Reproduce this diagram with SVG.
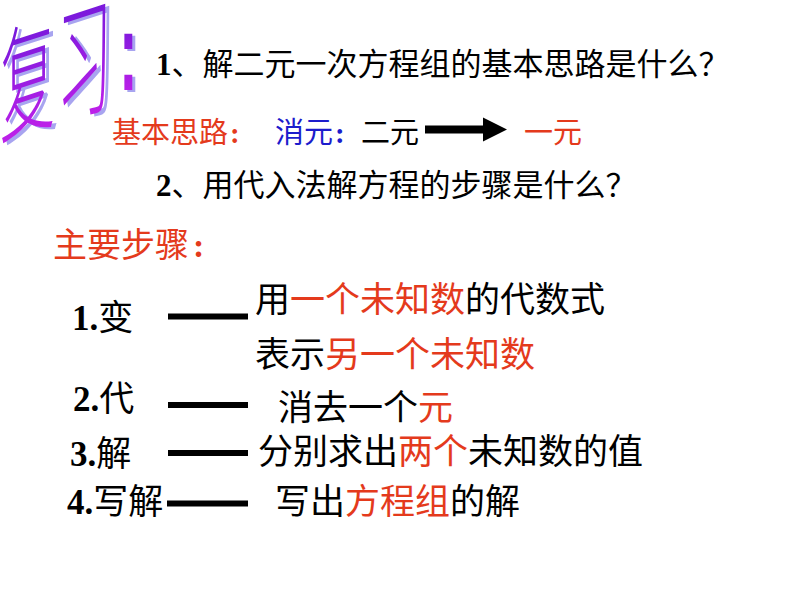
<svg xmlns="http://www.w3.org/2000/svg" width="794" height="596" viewBox="0 0 794 596">
<defs>
<linearGradient id="wa" x1="0" y1="0" x2="0" y2="1">
<stop offset="0" stop-color="#5A16D6"/>
<stop offset="1" stop-color="#D022EC"/>
</linearGradient>
<style>
.cjk{font-family:"Noto Sans CJK SC","Noto Sans CJK JP",sans-serif;font-weight:400}
.num{font-family:"Liberation Serif","Noto Sans CJK SC",serif;font-weight:700}
.blk{fill:#000}
.red{fill:#E43A1C}
.blue{fill:#1C1CCC}
.q{font-size:31px}
.s{font-size:35px}
.wa{font-family:"Noto Sans CJK SC",sans-serif;font-weight:200;font-size:55px}
.wac{font-family:"Liberation Sans",sans-serif;font-weight:700;font-size:56px}
.dash{fill:#000}
</style>
</defs>
<rect width="794" height="596" fill="#fff"/>

<g id="wordart">
<g fill="#A8A4F0">
<text class="wa" transform="translate(4,137) skewY(-18) scale(1,2.25)">复</text>
<text class="wa" transform="translate(61,119) skewY(-18) scale(1,2.35)">习</text>
<text class="wac" transform="translate(122,92) scale(1,2)">:</text>
</g>
<g fill="url(#wa)">
<text class="wa" transform="translate(0,135) skewY(-18) scale(1,2.25)">复</text>
<text class="wa" transform="translate(57,117) skewY(-18) scale(1,2.35)">习</text>
<text class="wac" transform="translate(119,90) scale(1,2)">:</text>
</g>
</g>

<g id="question1">
<text class="cjk q blk" x="156" y="75"><tspan class="num">1</tspan>、解二元一次方程组的基本思路是什么？</text>
</g>

<g id="idea">
<text class="cjk red" x="112" y="143" font-size="29">基本思路</text>
<text class="num red" x="230" y="143" font-size="29">:</text>
<text class="cjk blue" x="275" y="143" font-size="29">消元</text>
<text class="num blue" x="335" y="143" font-size="29">:</text>
<text class="cjk blk" x="361" y="143" font-size="29">二元</text>
<path d="M425,125.5 H483 V117.5 L507,129.5 L483,141.5 V133.5 H425 Z" fill="#000"/>
<text class="cjk red" x="524" y="143" font-size="29">一元</text>
</g>

<g id="question2">
<text class="cjk q blk" x="156" y="196"><tspan class="num">2</tspan>、用代入法解方程的步骤是什么？</text>
</g>

<g id="steps-title">
<text class="cjk red" x="53" y="257" font-size="34">主要步骤</text>
<text class="num red" x="193" y="257" font-size="34">:</text>
</g>

<g id="step1">
<text class="cjk s blk" x="72" y="330"><tspan class="num">1.</tspan>变</text>
<rect class="dash" x="168" y="313.5" width="80" height="6"/>
<text class="cjk s blk" x="255" y="312">用<tspan class="red">一个未知数</tspan>的代数式</text>
<text class="cjk s blk" x="255" y="367">表示<tspan class="red">另一个未知数</tspan></text>
</g>

<g id="step2">
<text class="cjk s blk" x="73" y="411"><tspan class="num">2.</tspan>代</text>
<rect class="dash" x="168" y="402" width="80" height="6"/>
<text class="cjk s blk" x="278" y="420">消去一个<tspan class="red">元</tspan></text>
</g>

<g id="step3">
<text class="cjk s blk" x="70" y="466"><tspan class="num">3.</tspan>解</text>
<rect class="dash" x="168" y="450" width="80" height="6"/>
<text class="cjk s blk" x="258" y="464">分别求出<tspan class="red">两个</tspan>未知数的值</text>
</g>

<g id="step4">
<text class="cjk s blk" x="67" y="514"><tspan class="num">4.</tspan>写解</text>
<rect class="dash" x="167" y="500.5" width="81" height="6"/>
<text class="cjk s blk" x="275" y="514">写出<tspan class="red">方程组</tspan>的解</text>
</g>
</svg>
